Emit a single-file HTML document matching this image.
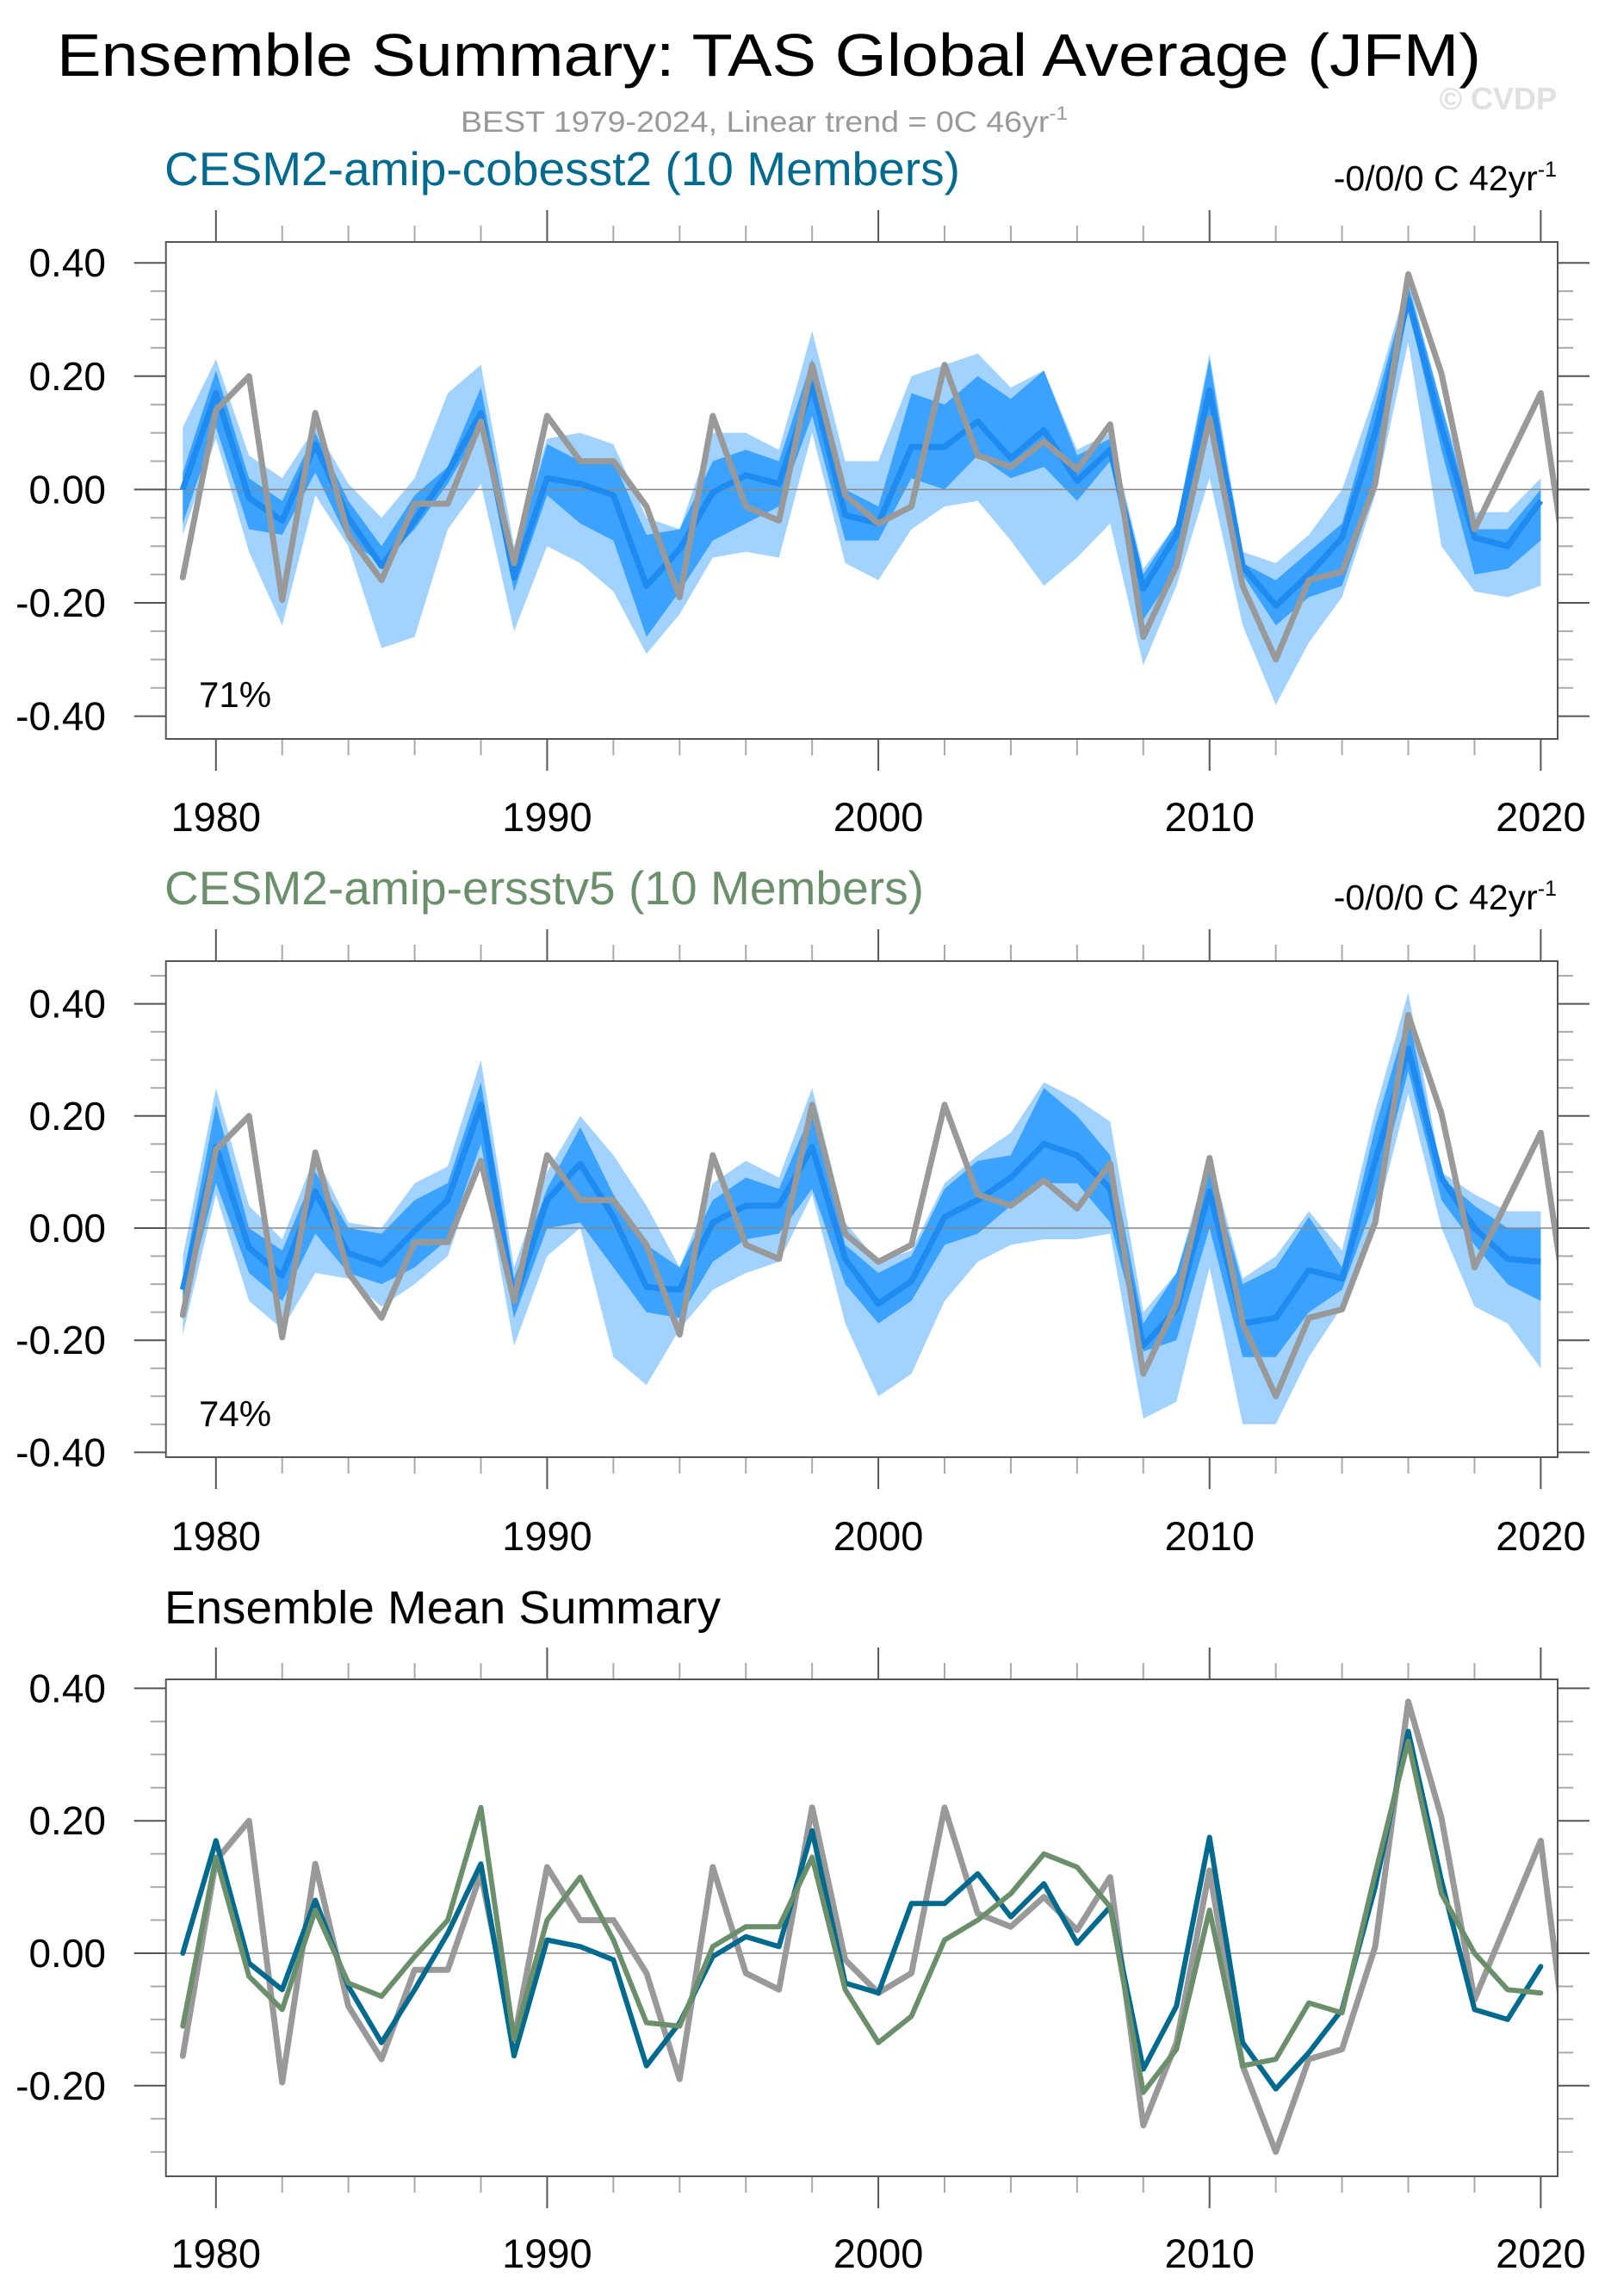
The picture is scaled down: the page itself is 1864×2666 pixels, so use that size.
<!DOCTYPE html>
<html><head><meta charset="utf-8"><style>
html,body{margin:0;padding:0;background:#fff}
svg{display:block;font-family:"Liberation Sans",Arial,sans-serif}
</style></head><body>
<svg id="chart" width="1864" height="2666" viewBox="0 0 1864 2666" xmlns="http://www.w3.org/2000/svg">
<text x="66" y="88" font-size="70" textLength="1654" lengthAdjust="spacingAndGlyphs" fill="#000">Ensemble Summary: TAS Global Average (JFM)</text>
<text x="535" y="153" font-size="34" fill="#999" textLength="705" lengthAdjust="spacingAndGlyphs">BEST 1979-2024, Linear trend = 0C 46yr<tspan dy="-14" font-size="22">-1</tspan></text>
<text x="1808" y="127" font-size="36" font-weight="bold" fill="#e0e0e0" text-anchor="end">© CVDP</text>
<text x="191" y="215" font-size="55" fill="#006a8e" textLength="924" lengthAdjust="spacingAndGlyphs">CESM2-amip-cobesst2 (10 Members)</text>
<text x="1808" y="221" font-size="41" fill="#000" text-anchor="end">-0/0/0 C 42yr<tspan dy="-16" font-size="25">-1</tspan></text>
<text x="191" y="1050" font-size="55" fill="#6a8f6a" textLength="882" lengthAdjust="spacingAndGlyphs">CESM2-amip-ersstv5 (10 Members)</text>
<text x="1808" y="1056" font-size="41" fill="#000" text-anchor="end">-0/0/0 C 42yr<tspan dy="-16" font-size="25">-1</tspan></text>
<text x="191" y="1885" font-size="54" fill="#000" textLength="646" lengthAdjust="spacingAndGlyphs">Ensemble Mean Summary</text>
<text x="231" y="821" font-size="42" fill="#000">71%</text>
<text x="231" y="1656" font-size="42" fill="#000">74%</text>
<g id="plots"></g>
</svg>
<script>
const years = [1979,1980,1981,1982,1983,1984,1985,1986,1987,1988,1989,1990,1991,1992,1993,1994,1995,1996,1997,1998,1999,2000,2001,2002,2003,2004,2005,2006,2007,2008,2009,2010,2011,2012,2013,2014,2015,2016,2017,2018,2019,2020];
const obsYears = years.concat([2021]);
const obs = [-0.155,0.14,0.20,-0.195,0.135,-0.08,-0.16,-0.025,-0.025,0.12,-0.13,0.13,0.05,0.05,-0.03,-0.19,0.13,-0.03,-0.055,0.22,-0.01,-0.06,-0.03,0.22,0.06,0.04,0.085,0.035,0.115,-0.26,-0.135,0.125,-0.17,-0.30,-0.16,-0.145,0.01,0.38,0.205,-0.07,0.05,0.17,-0.23];
const meanA = [0.0,0.17,-0.015,-0.055,0.08,-0.05,-0.135,-0.055,0.03,0.135,-0.155,0.02,0.01,-0.01,-0.17,-0.105,-0.005,0.025,0.01,0.185,-0.045,-0.06,0.075,0.075,0.12,0.055,0.105,0.015,0.07,-0.175,-0.08,0.175,-0.135,-0.205,-0.15,-0.085,0.10,0.335,0.11,-0.085,-0.10,-0.02];
const lightHiA = [0.11,0.23,0.06,0.02,0.11,0.01,-0.05,0.02,0.17,0.22,-0.10,0.09,0.10,0.08,-0.05,-0.07,0.10,0.10,0.07,0.28,0.05,0.05,0.20,0.22,0.24,0.18,0.21,0.07,0.10,-0.14,-0.06,0.24,-0.11,-0.13,-0.08,0.00,0.17,0.37,0.15,-0.04,-0.04,0.02];
const darkHiA = [0.03,0.21,0.02,-0.02,0.10,-0.02,-0.10,-0.01,0.04,0.18,-0.12,0.08,0.05,0.05,-0.08,-0.07,0.05,0.07,0.05,0.23,0.00,-0.03,0.17,0.15,0.20,0.16,0.21,0.06,0.09,-0.15,-0.06,0.23,-0.13,-0.16,-0.11,-0.06,0.15,0.36,0.15,-0.07,-0.07,0.00];
const darkLoA = [-0.06,0.11,-0.07,-0.08,0.03,-0.09,-0.13,-0.07,0.01,0.11,-0.18,-0.01,-0.06,-0.09,-0.26,-0.18,-0.09,-0.06,-0.03,0.13,-0.09,-0.09,0.02,0.00,0.06,0.02,0.04,-0.02,0.05,-0.23,-0.14,0.12,-0.15,-0.24,-0.19,-0.17,0.00,0.32,0.07,-0.15,-0.14,-0.09];
const lightLoA = [-0.08,0.09,-0.11,-0.24,-0.01,-0.10,-0.28,-0.26,-0.07,0.01,-0.25,-0.10,-0.13,-0.18,-0.29,-0.22,-0.12,-0.11,-0.12,0.10,-0.13,-0.16,-0.07,-0.03,-0.02,-0.09,-0.17,-0.12,-0.06,-0.31,-0.17,0.02,-0.24,-0.38,-0.27,-0.19,-0.01,0.26,-0.10,-0.18,-0.19,-0.17];
const meanB = [-0.11,0.145,-0.035,-0.085,0.065,-0.045,-0.065,-0.005,0.05,0.22,-0.13,0.05,0.115,0.02,-0.105,-0.11,0.01,0.04,0.04,0.145,-0.055,-0.135,-0.095,0.02,0.05,0.09,0.15,0.13,0.07,-0.21,-0.145,0.065,-0.17,-0.16,-0.075,-0.09,0.12,0.32,0.09,0.0,-0.055,-0.06];
const lightHiB = [-0.05,0.25,0.04,-0.02,0.13,0.01,0.00,0.08,0.11,0.30,-0.07,0.10,0.20,0.13,0.04,-0.07,0.08,0.12,0.09,0.25,0.01,-0.06,-0.04,0.08,0.13,0.17,0.26,0.23,0.19,-0.15,-0.08,0.13,-0.09,-0.05,0.03,-0.04,0.21,0.42,0.10,0.06,0.03,0.03];
const darkHiB = [-0.09,0.22,0.00,-0.04,0.10,0.00,-0.01,0.05,0.08,0.26,-0.09,0.07,0.18,0.06,-0.03,-0.07,0.05,0.09,0.07,0.21,-0.03,-0.08,-0.05,0.07,0.12,0.13,0.25,0.20,0.13,-0.17,-0.08,0.11,-0.10,-0.07,0.02,-0.07,0.18,0.38,0.09,0.04,0.00,0.00];
const darkLoB = [-0.15,0.08,-0.08,-0.13,-0.01,-0.08,-0.10,-0.07,-0.02,0.15,-0.16,0.00,0.01,-0.07,-0.15,-0.16,-0.06,-0.02,-0.01,0.07,-0.10,-0.17,-0.13,-0.03,-0.01,0.04,0.08,0.08,0.01,-0.22,-0.20,0.00,-0.23,-0.23,-0.15,-0.11,0.05,0.28,0.05,-0.03,-0.10,-0.13];
const lightLoB = [-0.19,0.06,-0.13,-0.18,-0.08,-0.09,-0.14,-0.10,-0.05,0.12,-0.21,-0.05,0.00,-0.23,-0.28,-0.18,-0.11,-0.08,-0.06,0.06,-0.17,-0.30,-0.26,-0.13,-0.06,-0.03,-0.02,-0.02,-0.01,-0.34,-0.31,-0.07,-0.35,-0.35,-0.23,-0.14,0.01,0.24,0.00,-0.14,-0.17,-0.25];
const yTickLabels12 = ["0.40","0.20","0.00","-0.20","-0.40"];
const yTickLabels3 = ["0.40","0.20","0.00","-0.20"];
const xTickLabels = ["1980","1990","2000","2010","2020"];

const NS="http://www.w3.org/2000/svg";
const root=document.getElementById('plots');
const X0=192.7, X1=1809, YR0=1978.49, YR1=2020.51;
function xs(y){return X0+(y-YR0)*(X1-X0)/(YR1-YR0);}
function mk(tag,attrs,parent){const e=document.createElementNS(NS,tag);for(const k in attrs)e.setAttribute(k,attrs[k]);(parent||root).appendChild(e);return e;}

const panels=[
 {id:'panel1',top:281,bottom:858,zero:568.4,s:658,labels:yTickLabels12,xlab:965},
 {id:'panel2',top:1116,bottom:1692,zero:1426,s:651,labels:yTickLabels12,xlab:1800},
 {id:'panel3',top:1950,bottom:2527,zero:2268,s:769,labels:yTickLabels3,xlab:2633}
];

function ptsLine(xv,vals,ys){return xv.map((y,i)=>xs(y).toFixed(1)+','+ys(vals[i]).toFixed(1)).join(' ');}
function band(hi,lo,ys){const a=years.map((y,i)=>xs(y).toFixed(1)+','+ys(hi[i]).toFixed(1));const b=years.map((y,i)=>xs(y).toFixed(1)+','+ys(lo[i]).toFixed(1)).reverse();return a.concat(b).join(' ');}

panels.forEach((p,pi)=>{
  const ys=v=>p.zero-v*p.s;
  const g=mk('g',{});
  
  
  const cp=mk('clipPath',{id:'clip'+pi},g);
  mk('rect',{x:X0,y:p.top,width:X1-X0,height:p.bottom-p.top},cp);
  const lo=-(p.bottom-p.zero)/p.s, hi=(p.zero-p.top)/p.s;
  for(let k=Math.ceil(lo*20-1e-6);k<=Math.floor(hi*20+1e-6);k++){
    const v=k/20, yy=ys(v), major=(k%4===0);
    const len=major?37:18;
    const t1=mk('line',{x1:X0-len,x2:X0,y1:yy,y2:yy,stroke:major?'#555':'#aaa','stroke-width':2},g);
    
    
    const t2=mk('line',{x1:X1,x2:X1+len,y1:yy,y2:yy,stroke:major?'#555':'#aaa','stroke-width':2},g);
    
    
  }
  p.labels.forEach(lab=>{
    const v=parseFloat(lab);
    const t=mk('text',{x:123,y:ys(v)+16,'font-size':46,'text-anchor':'end',fill:'#000'},g);
    t.textContent=lab;
    
    
  });
  for(let yr=1980;yr<=2020;yr+=2){
    const xx=xs(yr), major=(yr%10===0), len=major?37:19;
    const a=mk('line',{x1:xx,x2:xx,y1:p.bottom,y2:p.bottom+len,stroke:major?'#555':'#aaa','stroke-width':2},g);
    
    
    const b=mk('line',{x1:xx,x2:xx,y1:p.top-len,y2:p.top,stroke:major?'#555':'#aaa','stroke-width':2},g);
    
    
  }
  xTickLabels.forEach(lab=>{
    const t=mk('text',{x:xs(parseFloat(lab)),y:p.xlab,'font-size':47,'text-anchor':'middle',fill:'#000'},g);
    t.textContent=lab;
    
    
  });
  const pg=mk('g',{'clip-path':'url(#clip'+pi+')'},g);
  if(pi<2){
    const L=pi===0?[lightHiA,darkHiA,darkLoA,lightLoA,meanA]:[lightHiB,darkHiB,darkLoB,lightLoB,meanB];
    const b1=mk('polygon',{points:band(L[0],L[3],ys),fill:'#a2d2ff'},pg);
    
    
    const b2=mk('polygon',{points:band(L[1],L[2],ys),fill:'#3ba3ff'},pg);
    
    
  }
  const z=mk('line',{x1:X0,x2:X1,y1:p.zero,y2:p.zero,stroke:'#888','stroke-width':1.5},pg);
  
  
  if(pi<2){
    const m=mk('polyline',{points:ptsLine(years,pi===0?meanA:meanB,ys),fill:'none',stroke:'#1f8bf0','stroke-width':7,'stroke-linejoin':'round'},pg);
    
    
  }
  const o=mk('polyline',{points:ptsLine(obsYears,obs,ys),fill:'none',stroke:'#999','stroke-width':7,'stroke-linejoin':'round','stroke-linecap':'round'},pg);
  
  
  if(pi===2){
    const a=mk('polyline',{points:ptsLine(years,meanA,ys),fill:'none',stroke:'#006a8e','stroke-width':6,'stroke-linejoin':'round','stroke-linecap':'round'},pg);
    
    
    const b=mk('polyline',{points:ptsLine(years,meanB,ys),fill:'none',stroke:'#6a8f6a','stroke-width':6,'stroke-linejoin':'round','stroke-linecap':'round'},pg);
    
    
  }
  const box=mk('rect',{x:X0,y:p.top,width:X1-X0,height:p.bottom-p.top,fill:'none',stroke:'#555','stroke-width':2},g);
  
  
});
</script>
</body></html>
